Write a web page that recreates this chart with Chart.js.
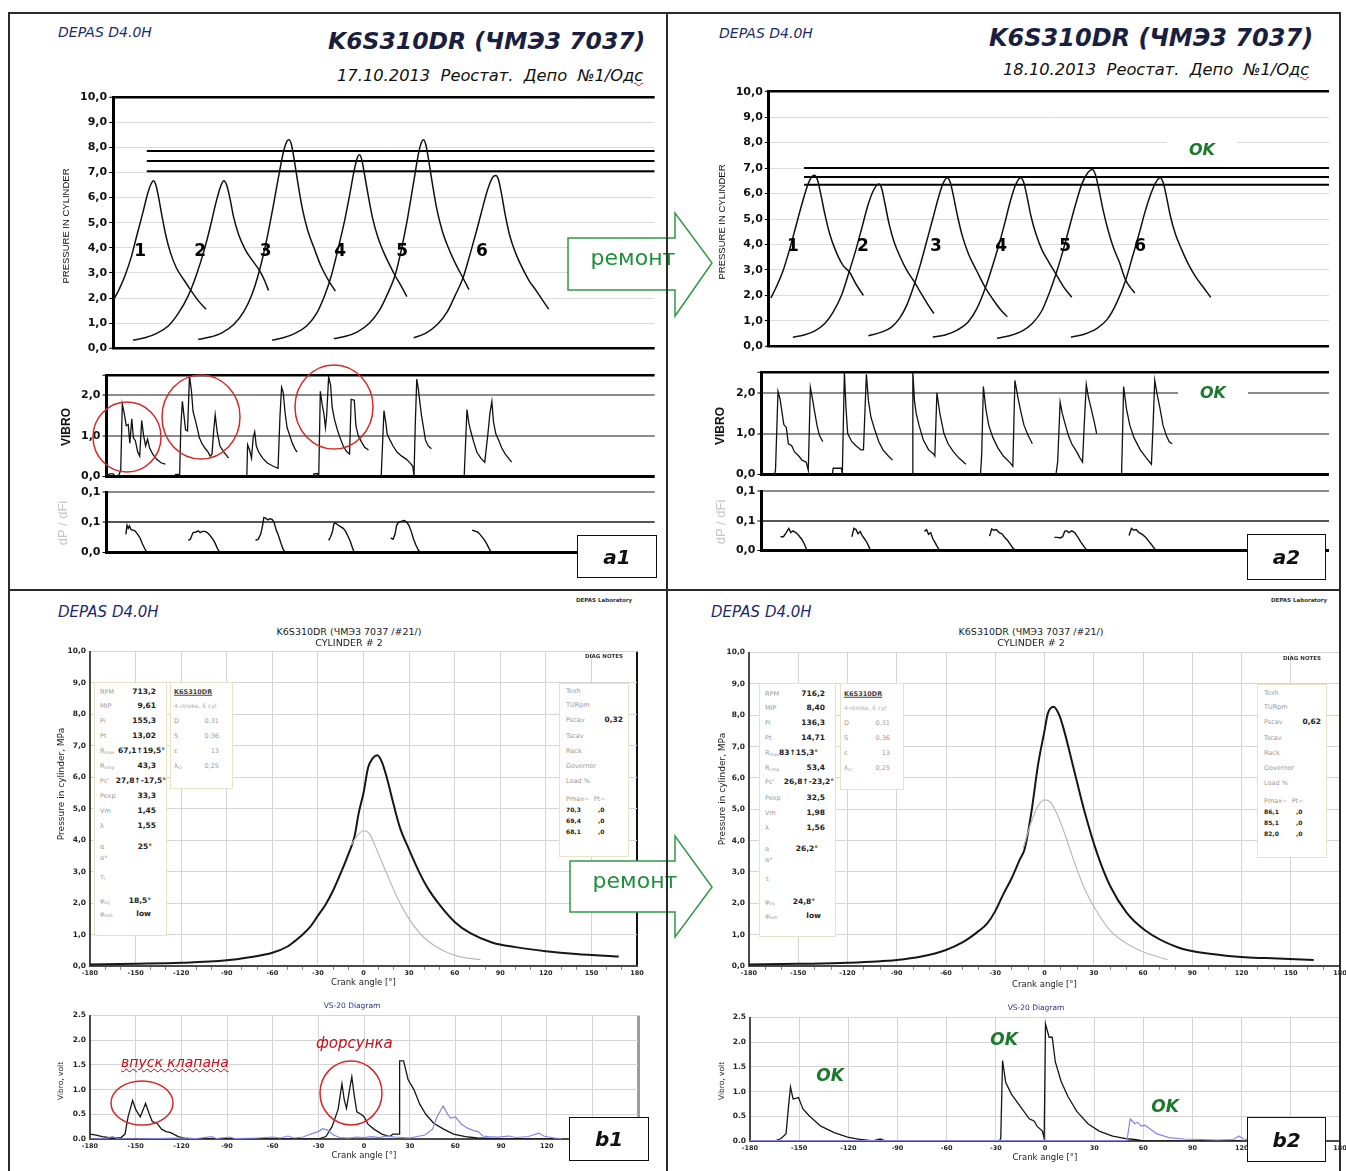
<!DOCTYPE html>
<html lang="ru">
<head>
<meta charset="utf-8">
<title>K6S310DR (ЧМЭ3 7037)</title>
<script src="https://cdn.jsdelivr.net/npm/chart.js@4.4.1/dist/chart.umd.min.js"></script>
<style>
  html, body { margin: 0; padding: 0; background: #fff; }
  #page { position: relative; width: 1346px; height: 1171px; overflow: hidden; background: #fff; font-family: 'DejaVu Sans', sans-serif; }
  #page canvas { position: absolute; }
  .t { position: absolute; white-space: nowrap; line-height: 1; }
  .t sub { font-size: 70%; vertical-align: -1px; line-height: 0; }
  .box { position: absolute; box-sizing: border-box; }
  .sp { text-decoration: underline wavy #d01010; text-decoration-thickness: 1px; }
</style>
</head>
<body>
<div id="page"></div>
<script>
// ---------- tick labels
const pressureTicks = [0, 1, 2, 3, 4, 5, 6, 7, 8, 9, 10];
const pressureTickLabels = ['0,0', '1,0', '2,0', '3,0', '4,0', '5,0', '6,0', '7,0', '8,0', '9,0', '10,0'];
const vibroTicksA = [0, 1, 2, 2.5];
const vibroTickLabelsA = ['0,0', '1,0', '2,0', ''];
const dpTicks = [0, 0.05, 0.1];
const dpTickLabels = ['0,0', '0,1', '0,1'];
const angleTicks = [-180, -150, -120, -90, -60, -30, 0, 30, 60, 90, 120, 150, 180];
const angleTickLabels = ['-180', '-150', '-120', '-90', '-60', '-30', '0', '30', '60', '90', '120', '150', '180'];
const minorAngleTicks = [-170, -160, -140, -130, -110, -100, -80, -70, -50, -40, -20, -10, 10, 20, 40, 50, 70, 80, 100, 110, 130, 140, 160, 170];
const vibroTicksB = [0, 0.5, 1, 1.5, 2, 2.5];
const vibroTickLabelsB = ['0.0', '0.5', '1.0', '1.5', '2.0', '2.5'];

// ---------- a1 (17.10.2013): cylinder pressure, x = position along the sweep, y = MPa
const a1P1 = [[160,1.9],[175,2.35],[190,2.9],[205,3.6],[220,4.5],[235,5.4],[248,6.2],[256,6.55],[262,6.67],[268,6.5],[275,6.0],[283,5.3],[293,4.5],[305,3.8],[320,3.2],[340,2.7],[357,2.3],[375,1.9],[395,1.56]];
const a1P2 = [[210,0.33],[240,0.42],[270,0.6],[300,0.9],[325,1.4],[350,2.1],[370,2.9],[390,3.9],[405,4.8],[420,5.8],[432,6.45],[440,6.67],[447,6.5],[455,6.0],[465,5.2],[478,4.5],[495,3.9],[512,3.5],[530,3.1],[543,2.7],[553,2.3]];
const a1P3 = [[375,0.36],[405,0.45],[435,0.62],[465,0.95],[490,1.45],[510,2.1],[530,3.1],[548,4.3],[563,5.5],[578,6.8],[592,7.9],[600,8.25],[605,8.3],[611,8.1],[618,7.5],[627,6.6],[638,5.6],[652,4.7],[668,4.0],[685,3.3],[705,2.7],[722,2.28]];
const a1P4 = [[562,0.33],[590,0.42],[620,0.6],[650,0.9],[675,1.4],[695,2.1],[712,2.9],[728,3.9],[743,4.9],[757,6.0],[770,7.1],[778,7.6],[783,7.7],[789,7.5],[796,6.9],[805,6.1],[816,5.2],[830,4.4],[845,3.8],[860,3.3],[873,2.9],[888,2.5],[903,2.06]];
const a1P5 = [[718,0.39],[748,0.48],[778,0.66],[808,1.0],[833,1.5],[855,2.2],[873,2.9],[890,4.0],[905,5.2],[920,6.6],[933,7.8],[940,8.2],[945,8.3],[951,8.1],[958,7.5],[967,6.6],[978,5.6],[992,4.7],[1008,4.0],[1025,3.4],[1045,2.8],[1060,2.34]];
const a1P6 = [[920,0.42],[950,0.6],[980,0.95],[1005,1.45],[1025,2.1],[1045,2.8],[1062,3.7],[1078,4.6],[1093,5.5],[1107,6.3],[1120,6.8],[1128,6.88],[1135,6.7],[1143,6.1],[1152,5.3],[1163,4.5],[1178,3.8],[1195,3.2],[1212,2.7],[1230,2.3],[1247,1.9],[1262,1.56]];
const a1PeakLevels = [7.85, 7.45, 7.05];
const a1LabelX = [228, 380, 546, 734, 891, 1093];
const a1LabelY = 3.84;

// a1 vibro, volt
const a1V1 = [[143,0],[150,0.06],[160,0.06],[166,0],[174,0.03],[179,0.15],[183,1.78],[188,1.55],[193,1.25],[198,1.28],[202,0.82],[207,1.42],[211,0.95],[216,0.88],[222,0.6],[227,0.5],[232,1.38],[237,1.0],[242,0.75],[247,0.92],[252,0.7],[260,0.55],[270,0.42],[282,0.33],[292,0.3]];
const a1V2 = [[315,0],[318,0.05],[325,0.05],[328,0],[331,1.2],[335,1.85],[339,1.5],[343,1.15],[348,1.12],[353,2.48],[358,2.1],[362,1.6],[370,1.3],[378,0.95],[385,0.8],[392,0.7],[400,0.6],[405,0.5],[410,0.55],[414,1.1],[418,1.52],[423,1.1],[430,0.75],[440,0.6],[452,0.45]];
const a1V3 = [[498,0],[500,0.78],[505,0.65],[510,0.45],[514,0.95],[518,1.1],[522,0.75],[528,0.6],[538,0.45],[550,0.33],[565,0.25],[577,0.2],[582,1.5],[586,2.2],[590,2.08],[595,1.55],[600,1.2],[607,1.0],[613,0.82],[620,0.68],[625,0.6]];
const a1V4 = [[665,0],[668,0.06],[676,0.07],[680,0],[684,2.1],[689,1.75],[693,1.55],[697,1.2],[700,1.5],[705,2.45],[710,2.25],[714,1.7],[720,1.4],[727,1.15],[734,0.95],[742,0.75],[750,0.62],[758,0.55],[762,1.9],[770,1.88],[774,1.25],[780,1.0],[788,0.85],[796,0.72],[806,0.65]];
const a1V5 = [[838,0],[845,1.62],[850,1.3],[853,1.05],[860,0.9],[868,0.75],[878,0.6],[890,0.5],[902,0.42],[912,0.32],[918,0.25],[921,0],[924,1.2],[928,2.4],[932,2.15],[935,1.9],[940,1.5],[945,1.2],[950,0.9],[957,0.75],[965,0.68]];
const a1V6 = [[1048,0],[1055,1.65],[1060,1.3],[1065,1.1],[1072,0.85],[1080,0.6],[1090,0.45],[1100,0.35],[1108,1.05],[1113,1.55],[1118,1.85],[1122,1.35],[1128,1.05],[1135,0.9],[1143,0.7],[1152,0.55],[1160,0.45],[1168,0.35]];

// a1 dP/dFi
const a1D1 = [[192,0.03],[195,0.045],[198,0.04],[201,0.044],[205,0.038],[210,0.037],[215,0.036],[222,0.03],[228,0.024],[234,0.014],[240,0.006],[245,0]];
const a1D2 = [[350,0.02],[355,0.022],[362,0.033],[370,0.034],[375,0.036],[380,0.033],[386,0.035],[392,0.035],[398,0.033],[405,0.028],[412,0.022],[418,0.015],[424,0.006],[430,0]];
const a1D3 = [[520,0.02],[527,0.022],[533,0.03],[538,0.045],[541,0.058],[546,0.057],[551,0.054],[556,0.056],[562,0.055],[567,0.05],[572,0.038],[578,0.028],[584,0.016],[590,0.005],[595,0]];
const a1D4 = [[705,0.02],[710,0.026],[715,0.035],[718,0.047],[722,0.049],[728,0.046],[735,0.043],[742,0.04],[748,0.035],[753,0.028],[760,0.018],[765,0.008],[770,0]];
const a1D5 = [[862,0.024],[868,0.022],[873,0.03],[877,0.045],[882,0.05],[890,0.052],[897,0.053],[903,0.05],[908,0.045],[914,0.035],[920,0.022],[926,0.012],[932,0.004],[937,0]];
const a1D6 = [[1068,0.037],[1073,0.036],[1077,0.035],[1082,0.034],[1088,0.03],[1094,0.025],[1100,0.02],[1106,0.013],[1112,0.005],[1117,0]];

// ---------- a2 (18.10.2013, after repair)
const a2P1 = [[195,1.9],[210,2.4],[225,3.0],[240,3.8],[255,4.7],[270,5.6],[283,6.3],[293,6.65],[300,6.72],[307,6.55],[315,6.0],[325,5.2],[337,4.4],[350,3.8],[368,3.2],[385,2.9],[400,2.45],[418,2.0]];
const a2P2 = [[248,0.36],[275,0.45],[300,0.6],[325,0.9],[345,1.35],[365,2.0],[383,2.9],[400,3.8],[415,4.7],[430,5.6],[443,6.15],[455,6.38],[462,6.2],[470,5.6],[480,4.8],[492,4.1],[507,3.5],[522,3.0],[540,2.55],[560,2.0],[575,1.6],[588,1.29]];
const a2P3 = [[430,0.42],[460,0.55],[485,0.75],[505,1.1],[522,1.6],[540,2.4],[555,3.2],[570,4.1],[585,5.0],[598,5.8],[610,6.4],[620,6.62],[627,6.45],[635,5.9],[645,5.1],[657,4.3],[672,3.6],[690,3.0],[712,2.3],[730,1.85],[748,1.45],[765,1.16]];
const a2P4 = [[585,0.36],[615,0.45],[645,0.65],[670,0.95],[692,1.5],[712,2.3],[728,3.1],[743,3.9],[758,4.8],[772,5.7],[785,6.35],[797,6.62],[804,6.45],[812,5.9],[822,5.1],[834,4.4],[848,3.8],[865,3.3],[882,2.84],[900,2.35],[920,1.93]];
const a2P5 = [[740,0.32],[770,0.42],[800,0.6],[825,0.9],[848,1.4],[866,2.1],[882,2.84],[898,3.7],[913,4.6],[928,5.5],[945,6.4],[960,6.85],[970,6.95],[977,6.75],[985,6.2],[995,5.4],[1007,4.6],[1020,3.9],[1035,3.3],[1050,2.6],[1062,2.3],[1072,2.1]];
const a2P6 = [[918,0.36],[950,0.48],[980,0.7],[1005,1.05],[1028,1.7],[1050,2.6],[1066,3.5],[1082,4.4],[1097,5.3],[1111,6.0],[1123,6.45],[1133,6.62],[1140,6.45],[1148,5.9],[1158,5.1],[1170,4.4],[1185,3.8],[1202,3.2],[1220,2.7],[1238,2.3],[1255,1.93]];
const a2PeakLevels = [7.0, 6.65, 6.35];
const a2LabelX = [248, 417, 593, 750, 904, 1085];
const a2LabelY = 3.9;

const a2V1 = [[172,0],[203,0],[206,0.1],[212,2.03],[217,1.84],[222,1.5],[226,1.22],[232,1.15],[237,0.75],[245,0.7],[252,0.55],[262,0.45],[270,0.35],[280,0.3],[285,0.1],[290,2.13],[296,1.8],[300,1.55],[306,1.2],[312,0.95],[320,0.8]];
const a2V2 = [[343,0],[345,0.15],[365,0.15],[367,0],[372,2.5],[376,1.6],[380,1.0],[390,0.8],[400,0.7],[412,0.6],[418,0.6],[425,2.45],[430,1.8],[436,1.4],[445,1.1],[455,0.8],[465,0.6],[478,0.45],[488,0.35]];
const a2V3 = [[537,0],[537,2.5],[541,1.8],[545,1.5],[552,1.2],[562,0.85],[575,0.6],[587,0.5],[590,0.45],[595,2.0],[602,1.5],[612,1.0],[622,0.75],[635,0.55],[648,0.4],[665,0.25]];
const a2V4 = [[700,0],[703,0.5],[707,2.15],[713,1.6],[720,1.2],[730,0.9],[742,0.65],[755,0.45],[770,0.3],[778,0.2],[783,2.3],[790,1.9],[797,1.55],[805,1.2],[815,0.95],[825,0.75]];
const a2V5 = [[882,0],[886,0.3],[892,1.77],[897,1.5],[905,1.2],[912,0.95],[920,0.75],[932,0.55],[940,0.4],[946,0.3],[950,1.2],[955,2.2],[960,1.9],[967,1.6],[975,1.25],[980,1.0]];
const a2V6 = [[1040,0],[1042,0.8],[1045,2.15],[1052,1.6],[1060,1.2],[1070,0.9],[1085,0.6],[1100,0.4],[1112,0.25],[1116,1.2],[1120,2.3],[1125,2.0],[1133,1.6],[1140,1.2],[1148,0.95],[1155,0.8],[1162,0.75]];

const a2D1 = [[218,0.023],[225,0.023],[232,0.03],[238,0.037],[243,0.03],[248,0.033],[255,0.03],[262,0.025],[270,0.018],[276,0.01],[282,0]];
const a2D2 = [[390,0.023],[395,0.037],[400,0.035],[405,0.028],[410,0.032],[415,0.025],[420,0.02],[425,0.015],[430,0.008],[435,0]];
const a2D3 = [[565,0.032],[570,0.035],[575,0.027],[580,0.03],[585,0.02],[590,0.014],[596,0.006],[602,0]];
const a2D4 = [[722,0.024],[727,0.036],[732,0.034],[738,0.035],[745,0.03],[752,0.028],[758,0.022],[765,0.017],[772,0.01],[778,0.004],[785,0]];
const a2D5 = [[878,0.022],[885,0.022],[892,0.021],[898,0.023],[903,0.032],[908,0.033],[913,0.03],[920,0.033],[927,0.03],[935,0.022],[942,0.014],[950,0.006],[957,0]];
const a2D6 = [[1058,0.025],[1064,0.037],[1070,0.034],[1075,0.035],[1082,0.03],[1090,0.027],[1098,0.022],[1105,0.016],[1112,0.01],[1118,0.004],[1124,0]];

// ---------- b1 / b2: cylinder #2, crank angle in degrees
const b1Fired = [[-180,0.05],[-150,0.07],[-120,0.1],[-90,0.18],[-75,0.28],[-60,0.42],[-50,0.62],[-45,0.8],[-40,1.0],[-35,1.25],[-30,1.6],[-25,1.95],[-20,2.4],[-15,2.95],[-10,3.55],[-6,4.1],[-3,4.9],[0,5.5],[3,6.3],[6,6.6],[9,6.7],[12,6.5],[15,6.05],[20,5.1],[24,4.4],[30,3.7],[36,3.05],[42,2.5],[50,1.95],[60,1.4],[70,1.05],[85,0.74],[100,0.6],[120,0.47],[140,0.38],[168,0.3]];
const b1Motored = [[-8,3.85],[-4,4.15],[0,4.3],[4,4.2],[8.7,3.7],[15,2.97],[22,2.2],[30,1.5],[40,0.9],[52,0.5],[63,0.3],[77,0.2]];
const b2Fired = [[-180,0.05],[-150,0.07],[-120,0.1],[-90,0.19],[-75,0.3],[-60,0.51],[-50,0.75],[-45,0.92],[-40,1.12],[-35,1.35],[-30,1.75],[-25,2.3],[-20,2.8],[-15,3.4],[-12,3.75],[-8,4.9],[-4,6.4],[0,7.5],[2,8.05],[5.5,8.27],[9,8.0],[12,7.5],[18,6.25],[24,5.0],[32,3.6],[40,2.55],[50,1.7],[61,1.15],[81,0.6],[102,0.38],[122,0.28],[142,0.24],[164,0.19]];
const b2Motored = [[-13,3.75],[-8,4.6],[-4,5.1],[0,5.3],[4,5.2],[10,4.55],[15,3.8],[20,3.05],[25,2.4],[30,1.9],[40,1.13],[50,0.72],[61,0.43],[75,0.2]];

const b1VibroHead = [[-180,0.1],[-176,0.08],[-172,0.05],[-166,0.02],[-160,0.02],[-157,0.1],[-155,0.45],[-152,0.78],[-150,0.6],[-147,0.45],[-145,0.6],[-143.5,0.72],[-141,0.5],[-139,0.35],[-136,0.32],[-133,0.2],[-130,0.15],[-127,0.13],[-122,0.05],[-117,0.01],[-110,0],[-60,0],[-30,0],[-25,0.05],[-21,0.25],[-17,0.6],[-14.5,1.12],[-13,0.8],[-11.5,0.62],[-9.5,1.0],[-8,1.26],[-6.5,0.9],[-4.7,0.55],[-2,0.5],[0,0.45],[2.6,0.3],[6.5,0.2],[11.7,0.1],[17,0.05],[19,0.1],[23,0.1],[23.4,1.58],[26,1.58],[29,1.2],[32.8,1.0],[36.7,0.7],[40.6,0.5],[45.8,0.32],[52.3,0.2],[58.8,0.1],[66.6,0.05],[74.4,0.02],[90,0],[130,0]];
const b1VibroBlock = [[-180,0],[-170,0.01],[-165,0.05],[-162,0.01],[-150,0],[-120,0.02],[-110,0.01],[-100,0.05],[-97,0.01],[-88,0.04],[-85,0.01],[-70,0.02],[-60,0.04],[-55,0.02],[-50,0.06],[-46,0.02],[-40,0.04],[-35,0.1],[-30,0.15],[-27,0.21],[-24,0.18],[-20,0.08],[-16,0.03],[-10,0.02],[-5,0.04],[0,0.03],[5,0.05],[10,0.03],[15,0.06],[20,0.04],[30,0.02],[40,0.08],[45,0.2],[48,0.45],[52,0.67],[55,0.5],[57,0.42],[60,0.45],[64,0.3],[68,0.22],[72,0.17],[75,0.15],[78,0.06],[82,0.05],[88,0.04],[95,0.06],[100,0.03],[108,0.05],[115,0.12],[118,0.06],[125,0.02],[130,0.01]];
const b2VibroHead = [[-180,0],[-165,0],[-161,0.05],[-158,0.15],[-156.5,0.7],[-155.3,1.09],[-153.7,0.85],[-150.4,0.88],[-147.7,0.65],[-143.6,0.5],[-136.8,0.3],[-128.6,0.17],[-120.5,0.08],[-112.4,0.03],[-105,0],[-100.6,0.04],[-97,0],[-28,0],[-27,0.05],[-25.9,1.63],[-24,1.19],[-20.5,0.95],[-15.1,0.7],[-9.6,0.45],[-6.5,0.4],[-4.9,0.3],[-1.6,0.2],[-0.5,0.05],[0.3,2.37],[2.5,2.1],[4.4,2.1],[6.3,1.6],[9.9,1.2],[14,0.9],[19.4,0.6],[26.2,0.35],[33,0.2],[41.3,0.1],[49.3,0.05],[54.8,0.03],[60,0],[120,0]];
const b2VibroBlock = [[-180,0.01],[-100,0.01],[-30,0.01],[0,0.01],[50,0.01],[52,0.45],[54.8,0.35],[56.5,0.38],[58.6,0.3],[61,0.32],[64,0.25],[68,0.15],[75.6,0.07],[85,0.04],[105,0.02],[115,0.03],[118.3,0.1],[121,0.04],[128,0.02]];

// ---------- parameter boxes
const b1Params = [['RPM','713,2'],['MIP','9,61'],['Pi','155,3'],['Pt','13,02'],['R<sub>max</sub>','67,1↑19,5°'],['R<sub>cmp</sub>','43,3'],["Pc'",'27,8↑-17,5°'],['Pexp','33,3'],['Vm','1,45'],['λ','1,55'],['α','25°'],['α*',''],['τ<sub>i</sub>',''],['φ<sub>inj</sub>','18,5°'],['φ<sub>exh</sub>','low']];
const b2Params = [['RPM','716,2'],['MIP','8,40'],['Pi','136,3'],['Pt','14,71'],['R<sub>max</sub>','83↑15,3°'],['R<sub>cmp</sub>','53,4'],["Pc'",'26,8↑-23,2°'],['Pexp','32,5'],['Vm','1,98'],['λ','1,56'],['α','26,2°'],['α*',''],['τ<sub>i</sub>',''],['φ<sub>inj</sub>','24,8°'],['φ<sub>exh</sub>','low']];
const engineSpec = [['D','0,31'],['S','0,36'],['ε','13'],['λ<sub>cr</sub>','0,25']];
const diagNames = ['Texh','TURpm','Pscav','Tscav','Rack','Governor','Load %','Pmax~ &nbsp;Pt~'];
const b1Pmax = ['70,3','69,4','68,1'];
const b2Pmax = ['86,1','85,1','82,0'];

// ---------------------------------------------------------------
Chart.defaults.font.family = "'DejaVu Sans', sans-serif";
Chart.defaults.color = '#111';

const page = document.getElementById('page');
const LEFT = 'translate(0,-50%)', CENTER = 'translate(-50%,-50%)', RIGHT = 'translate(-100%,-50%)';
const VERT = 'translate(-50%,-50%) rotate(-90deg)';

function put(html, x, y, style, anchor) {
    const d = document.createElement('div');
    d.className = 't';
    d.innerHTML = html;
    d.style.cssText = `left:${x}px;top:${y}px;` + (style || '');
    d.style.transform = anchor || LEFT;
    page.appendChild(d);
    return d;
}

function rect(x, y, w, h, style) {
    const d = document.createElement('div');
    d.className = 'box';
    d.style.cssText = `left:${x}px;top:${y}px;width:${w}px;height:${h}px;` + (style || '');
    page.appendChild(d);
    return d;
}

function trace(arr, color, width, smooth) {
    return {
        data: arr.map(([x, y]) => ({ x, y })),
        borderColor: color,
        borderWidth: width,
        pointRadius: 0,
        fill: false,
        tension: 0,
        cubicInterpolationMode: smooth ? 'monotone' : 'default'
    };
}

function levelLine(level, xFrom, xTo) {
    return trace([[xFrom, level], [xTo, level]], '#000', 2, false);
}

// canvas sized so that the plot area lands on the given page rectangle
function plotCanvas(r) {
    const padT = r.padT || 10, padR = r.padR || 4, padB = r.padB || 4, xH = r.xH || 0;
    const left = Math.floor(r.x0 - r.axisW);
    const top = Math.floor(r.y0 - padT);
    const width = Math.ceil(r.x1 + padR - left);
    const height = Math.ceil(r.y1 + xH + padB - top);
    const cv = document.createElement('canvas');
    cv.width = width;
    cv.height = height;
    cv.style.cssText = `left:${left}px;top:${top}px;width:${width}px;height:${height}px`;
    page.appendChild(cv);
    return {
        cv, xH,
        axisW: r.x0 - left,
        padding: { left: 0, top: r.y0 - top, right: width - (r.x1 - left), bottom: height - (r.y1 - top) - xH }
    };
}

function valueAxis(c, ticks, labels, o) {
    return {
        type: 'linear',
        min: ticks[0],
        max: ticks[ticks.length - 1],
        afterBuildTicks: (a) => { a.ticks = ticks.map((v) => ({ value: v })); },
        afterFit: (a) => { a.width = c.axisW; },
        ticks: { callback: (v, i) => labels[i], font: o.font, color: o.color || '#111', padding: o.pad, autoSkip: false },
        grid: o.grid,
        border: o.border
    };
}

function angleAxis(c, o) {
    return {
        type: 'linear',
        min: -180,
        max: 180,
        afterBuildTicks: (a) => { a.ticks = angleTicks.map((v) => ({ value: v })); },
        afterFit: (a) => { a.height = c.xH; },
        ticks: { callback: (v, i) => angleTickLabels[i], font: { size: 6.5, weight: 'bold' }, color: '#262626', padding: 3, maxRotation: 0, autoSkip: false },
        grid: o.grid,
        border: { color: '#4a4a4a', width: 2 },
        title: { display: true, text: 'Crank angle [°]', font: { size: 8.5 }, color: '#222', padding: 0 }
    };
}

// small 10-degree marks under the crank-angle axis
function minorAngleAxis() {
    return {
        type: 'linear',
        position: 'bottom',
        weight: -1,
        min: -180,
        max: 180,
        afterBuildTicks: (a) => { a.ticks = minorAngleTicks.map((v) => ({ value: v })); },
        afterFit: (a) => { a.height = 0; },
        ticks: { display: false },
        grid: { drawOnChartArea: false, drawTicks: true, tickLength: 4, color: '#8a8a8a', lineWidth: 1 },
        border: { display: false }
    };
}

// grid style per tick value: [color, width]
function gridBy(styleOf, ticksOn) {
    return {
        drawTicks: !!ticksOn,
        tickLength: 4,
        tickColor: '#000',
        tickWidth: 1,
        color: (ctx) => styleOf(ctx.tick ? ctx.tick.value : null)[0],
        lineWidth: (ctx) => styleOf(ctx.tick ? ctx.tick.value : null)[1]
    };
}

const cylNumbers = {
    id: 'cylNumbers',
    afterDatasetsDraw(chart, args, opts) {
        if (!opts || !opts.xs) return;
        const { ctx, scales: { x, y } } = chart;
        ctx.save();
        ctx.font = "bold 17px 'DejaVu Sans'";
        ctx.fillStyle = '#000';
        ctx.textAlign = 'center';
        ctx.textBaseline = 'middle';
        opts.xs.forEach((v, i) => ctx.fillText(String(i + 1), x.getPixelForValue(v), y.getPixelForValue(opts.y)));
        ctx.restore();
    }
};

function draw(r, datasets, scales, pluginOpts, plugins) {
    const c = plotCanvas(r);
    return new Chart(c.cv, {
        type: 'line',
        data: { datasets },
        options: {
            responsive: false,
            animation: false,
            events: [],
            devicePixelRatio: 1,
            layout: { padding: c.padding, autoPadding: false },
            plugins: Object.assign({ legend: { display: false }, tooltip: { enabled: false } }, pluginOpts || {}),
            scales: scales(c)
        },
        plugins: plugins || []
    });
}

// ---------- upper panels (a1, a2)
const tickFontA = { size: 11, weight: 'bold' };
const pressureGridA = gridBy((v) => (v === 0 || v === 10) ? ['#000', 2.5] : ['#dcdcdc', 1], true);
const vibroGridA = gridBy((v) => v === 0 ? ['#000', 3] : v === 2.5 ? ['#000', 2.5] : ['#8c8c8c', 2], true);
const dpGridA = gridBy((v) => v === 0 ? ['#000', 3] : v === 0.05 ? ['#555', 2] : ['#8c8c8c', 2], true);
const axisBorderA = { display: true, color: '#000', width: 3 };

function upperPanel(p) {
    draw(p.pRect,
        [...p.curves.map((a) => trace(a, '#111', 1.5, true)), ...p.levels.map((l) => levelLine(l, p.levelFrom, p.xMax))],
        (c) => ({
            x: { type: 'linear', min: p.pMin, max: p.xMax, display: false },
            y: valueAxis(c, pressureTicks, pressureTickLabels, { font: tickFontA, pad: 2, grid: pressureGridA, border: axisBorderA })
        }),
        { cylNumbers: { xs: p.labelX, y: p.labelY } },
        [cylNumbers]);
    draw(p.vRect,
        p.vibro.map((a) => trace(a, '#111', 1.3, false)),
        (c) => ({
            x: { type: 'linear', min: p.vMin, max: p.xMax, display: false },
            y: valueAxis(c, vibroTicksA, vibroTickLabelsA, { font: tickFontA, pad: 2, grid: vibroGridA, border: axisBorderA })
        }));
    draw(p.dRect,
        p.dp.map((a) => trace(a, '#111', 1.4, false)),
        (c) => ({
            x: { type: 'linear', min: p.vMin, max: p.xMax, display: false },
            y: valueAxis(c, dpTicks, dpTickLabels, { font: tickFontA, pad: 2, grid: dpGridA, border: axisBorderA })
        }));
}

upperPanel({
    pRect: { x0: 113.2, x1: 654.7, y0: 97, y1: 353, axisW: 48 },
    vRect: { x0: 106.5, x1: 654.7, y0: 375, y1: 480.5, axisW: 42 },
    dRect: { x0: 106.5, x1: 654.7, y0: 492.3, y1: 556.7, axisW: 42 },
    pMin: 160, vMin: 143, xMax: 1530,
    curves: [a1P1, a1P2, a1P3, a1P4, a1P5, a1P6],
    levels: a1PeakLevels, levelFrom: 245,
    labelX: a1LabelX, labelY: a1LabelY,
    vibro: [a1V1, a1V2, a1V3, a1V4, a1V5, a1V6],
    dp: [a1D1, a1D2, a1D3, a1D4, a1D5, a1D6]
});

upperPanel({
    pRect: { x0: 768.8, x1: 1329, y0: 91.7, y1: 351, axisW: 48 },
    vRect: { x0: 761.4, x1: 1329, y0: 372.3, y1: 478.3, axisW: 42 },
    dRect: { x0: 761.4, x1: 1329, y0: 491, y1: 555, axisW: 42 },
    pMin: 190, vMin: 172, xMax: 1540,
    curves: [a2P1, a2P2, a2P3, a2P4, a2P5, a2P6],
    levels: a2PeakLevels, levelFrom: 275,
    labelX: a2LabelX, labelY: a2LabelY,
    vibro: [a2V1, a2V2, a2V3, a2V4, a2V5, a2V6],
    dp: [a2D1, a2D2, a2D3, a2D4, a2D5, a2D6]
});

// ---------- lower panels (b1, b2)
const tickFontB = { size: 7.5, weight: 'bold' };
const lightGrid = { color: '#d4d4d4', lineWidth: 1, drawTicks: false };
const axisBorderB = { display: true, color: '#4a4a4a', width: 2 };

function lowerPanel(p) {
    draw(p.pRect,
        [trace(p.motored, '#b9b9b9', 1.2, true), trace(p.fired, '#161616', 2, true)],
        (c) => ({
            x: angleAxis(c, { grid: gridBy((v) => v === 180 ? ['#111', 2] : ['#d4d4d4', 1]) }),
            xMinor: minorAngleAxis(),
            y: valueAxis(c, pressureTicks, pressureTickLabels, { font: tickFontB, color: '#262626', pad: 4, grid: lightGrid, border: axisBorderB })
        }));
    draw(p.vRect,
        [trace(p.block, '#8585ec', 1.2, false), trace(p.head, '#161616', 1.3, false)],
        (c) => ({
            x: angleAxis(c, { grid: gridBy((v) => v === 180 ? p.rightLine : ['#d4d4d4', 1]) }),
            y: valueAxis(c, vibroTicksB, vibroTickLabelsB, { font: tickFontB, color: '#262626', pad: 4, grid: lightGrid, border: axisBorderB })
        }));
}

lowerPanel({
    pRect: { x0: 90, x1: 637, y0: 651, y1: 966, axisW: 30, padT: 8, padR: 10, padB: 2, xH: 21.8 },
    vRect: { x0: 90, x1: 638, y0: 1015, y1: 1139, axisW: 30, padT: 8, padR: 10, padB: 2, xH: 21.8 },
    fired: b1Fired, motored: b1Motored,
    head: b1VibroHead, block: b1VibroBlock,
    rightLine: ['#9c9c9c', 3]
});

lowerPanel({
    pRect: { x0: 749, x1: 1340, y0: 652, y1: 966, axisW: 30, padT: 8, padR: 10, padB: 2, xH: 23.8 },
    vRect: { x0: 750, x1: 1340, y0: 1017, y1: 1141, axisW: 30, padT: 8, padR: 10, padB: 2, xH: 21.8 },
    fired: b2Fired, motored: b2Motored,
    head: b2VibroHead, block: b2VibroBlock,
    rightLine: ['#111', 2]
});

// ---------- texts of the upper panels
const navy = 'color:#1c2a6b;';
put('DEPAS D4.0H', 58, 32, 'font-style:italic;font-size:14px;' + navy);
put('K6S310DR (ЧМЭ3 7037)', 328, 42, 'font-style:italic;font-weight:bold;font-size:23.5px;color:#1a1f3f;');
put('17.10.2013&nbsp; Реостат.&nbsp; Депо&nbsp; №1/О<span class="sp">дс</span>', 337, 76, 'font-style:italic;font-size:16.3px;color:#111;');
put('DEPAS D4.0H', 719, 33, 'font-style:italic;font-size:14px;' + navy);
put('K6S310DR (ЧМЭ3 7037)', 989, 38, 'font-style:italic;font-weight:bold;font-size:24px;color:#1a1f3f;');
put('18.10.2013&nbsp; Реостат.&nbsp; Депо&nbsp; №1/О<span class="sp">дс</span>', 1003, 70, 'font-style:italic;font-size:16.3px;color:#111;');

const capsTitle = "font-family:'Liberation Sans',Arial,sans-serif;font-size:9.5px;color:#111;";
put('PRESSURE IN CYLINDER', 66, 226, capsTitle, VERT);
put('PRESSURE IN CYLINDER', 722, 222, capsTitle, VERT);
const vibroTitle = "font-family:'Liberation Sans',Arial,sans-serif;font-size:12px;font-weight:bold;color:#111;";
put('VIBRO', 66, 427, vibroTitle, VERT);
put('VIBRO', 720, 426, vibroTitle, VERT);
const dpTitle = "font-family:'Liberation Sans',Arial,sans-serif;font-size:13px;color:#c4c4c4;";
put('dP / dFi', 62, 523, dpTitle, VERT);
put('dP / dFi', 720, 522, dpTitle, VERT);

// ---------- texts of the lower panels
function lowerTexts(o) {
    put('DEPAS D4.0H', o.x + 0, 612, 'font-style:italic;font-size:15px;' + navy);
    put('DEPAS Laboratory', o.lab, 601, 'font-size:5.5px;font-weight:bold;color:#333;', LEFT);
    put('K6S310DR (ЧМЭ3 7037 /#21/)', o.mid, 632, 'font-size:9.5px;color:#1a1a1a;', CENTER);
    put('CYLINDER # 2', o.mid, 643, 'font-size:9.5px;color:#1a1a1a;', CENTER);
    put('DIAG NOTES', o.diag, o.diagY, 'font-size:5.5px;font-weight:bold;color:#333;', CENTER);
    put('Pressure in cylinder, MPa', o.yt, o.ptY, 'font-size:9px;color:#1a1a1a;', VERT);
    put('VS-20 Diagram', o.vs, o.vsY, 'font-size:7.5px;color:#2a2f80;', CENTER);
    put('Vibro, volt', o.yt, o.vtY, 'font-size:7.5px;color:#1a1a1a;', VERT);
}
lowerTexts({ x: 58, lab: 576, mid: 349, diag: 604, diagY: 657, yt: 61, ptY: 784, vs: 352, vsY: 1006, vtY: 1081 });
lowerTexts({ x: 711, lab: 1271, mid: 1031, diag: 1302, diagY: 659, yt: 722, ptY: 789, vs: 1036, vsY: 1008, vtY: 1081 });

// parameter boxes
const gray = 'font-size:6.5px;color:#9a9a9a;';
const bold = 'font-size:7.5px;font-weight:bold;color:#222;';
function paramBoxes(o) {
    rect(o.x1, o.top, o.w1, 254, 'background:#fff;border:1px solid #e6e3c9;');
    o.params.forEach(([lab, val], i) => {
        put(lab, o.x1 + 6, o.rows[i], gray);
        if (val) put(val, o.valRight[i], o.rows[i], bold, RIGHT);
    });
    rect(o.x2, o.top, o.w2, 107, 'background:#fff;border:1px solid #e6e3c9;');
    put('K6S310DR', o.x2 + 4, o.rows[0], 'font-size:6.5px;font-weight:bold;color:#444;text-decoration:underline;');
    put('4-stroke, 6 cyl', o.x2 + 4, o.rows[1], 'font-size:6px;color:#b0b0b0;');
    engineSpec.forEach(([lab, val], i) => {
        put(lab, o.x2 + 4, o.rows[i + 2], gray);
        put(val, o.x2 + o.w2 - 14, o.rows[i + 2], 'font-size:6.5px;color:#a0a0a0;', RIGHT);
    });
    rect(o.x3, o.top + 1, 70, 174, 'background:#fff;border:1px solid #e6e3c9;');
    diagNames.forEach((lab, i) => put(lab, o.x3 + 7, o.diagRows[i], gray));
    put(o.pscav, o.x3 + 64, o.diagRows[2], bold, RIGHT);
    o.pmax.forEach((v, i) => {
        put(v, o.x3 + 7, o.diagRows[7] + 11 * (i + 1), 'font-size:6px;font-weight:bold;color:#222;');
        put(',0', o.x3 + 39, o.diagRows[7] + 11 * (i + 1), 'font-size:6px;font-weight:bold;color:#222;');
    });
}
paramBoxes({
    x1: 94, w1: 73, x2: 170, w2: 63, x3: 559, top: 682,
    params: b1Params,
    rows: [692, 706, 721, 736, 751, 766, 781, 796, 811, 826, 847, 858, 877, 901, 914],
    valRight: [156, 156, 156, 156, 165, 156, 166, 156, 156, 156, 152, 0, 0, 151, 151],
    diagRows: [691, 705, 720, 736, 751, 766, 781, 799],
    pscav: '0,32', pmax: b1Pmax
});
paramBoxes({
    x1: 759, w1: 77, x2: 840, w2: 64, x3: 1257, top: 683,
    params: b2Params,
    rows: [694, 708, 723, 738, 753, 768, 782, 798, 813, 828, 849, 860, 879, 902, 916],
    valRight: [825, 825, 825, 825, 818, 825, 834, 825, 825, 825, 818, 0, 0, 815, 821],
    diagRows: [693, 707, 722, 738, 753, 768, 783, 801],
    pscav: '0,62', pmax: b2Pmax
});

// ---------- annotations: repair arrows and marked regions
const svgNS = 'http://www.w3.org/2000/svg';
const svg = document.createElementNS(svgNS, 'svg');
svg.setAttribute('width', '1346');
svg.setAttribute('height', '1171');
svg.style.cssText = 'position:absolute;left:0;top:0;';
page.appendChild(svg);
function svgEl(tag, attrs) {
    const e = document.createElementNS(svgNS, tag);
    Object.entries(attrs).forEach(([k, v]) => e.setAttribute(k, v));
    svg.appendChild(e);
    return e;
}
svgEl('polygon', { points: '568,238 675,238 675,213 712,263 675,316 675,290 568,290', fill: '#fff', stroke: '#2f9a45', 'stroke-width': 1.5 });
svgEl('polygon', { points: '570,861 675,861 675,836 712,887 675,937 675,912 570,912', fill: '#fff', stroke: '#2f9a45', 'stroke-width': 1.5 });
[[127, 437, 34, 35], [201, 417, 39, 42], [334, 407, 39, 42], [142, 1103, 31, 22], [351, 1093, 31, 32]].forEach(([cx, cy, rx, ry]) =>
    svgEl('ellipse', { cx, cy, rx, ry, fill: 'none', stroke: '#d42a2a', 'stroke-width': 1.5 }));

const green = 'color:#1f8f3c;font-size:22px;';
put('ремонт', 633, 258, green, CENTER);
put('ремонт', 635, 881, green, CENTER);

const ok = 'font-style:italic;font-weight:bold;color:#1b7a2c;';
put('OK', 1202, 150, ok + 'font-size:16px;background:#fff;padding:1px 22px;', CENTER);
put('OK', 1213, 393, ok + 'font-size:16px;background:#fff;padding:1px 22px;', CENTER);
put('OK', 830, 1075, ok + 'font-size:17px;', CENTER);
put('OK', 1004, 1039, ok + 'font-size:17px;', CENTER);
put('OK', 1165, 1106, ok + 'font-size:17px;', CENTER);

const red = 'font-style:italic;color:#c4101e;';
put('впуск клапана', 121, 1062, red + 'font-size:14px;text-decoration:underline wavy #9a1010;text-decoration-thickness:1px;');
put('форсунка', 316, 1043, red + 'font-size:15px;');

// panel tags
[['a1', 577, 535, 80, 43], ['a2', 1247, 534, 79, 46], ['b1', 569, 1117, 80, 44], ['b2', 1247, 1117, 79, 45]].forEach(([tag, x, y, w, h]) => {
    rect(x, y, w, h, 'background:#fff;border:1.5px solid #111;');
    put(tag, x + w / 2, y + h / 2, 'font-style:italic;font-weight:bold;font-size:20px;color:#111;', CENTER);
});

// ---------- frame
const frame = 'background:#2b2b2b;';
rect(8, 12, 1332, 1.5, frame);
rect(8, 12, 1.5, 1159, frame);
rect(1339, 12, 1.5, 1159, frame);
rect(666, 12, 1.5, 1159, frame);
rect(8, 589, 1332, 1.5, frame);
</script>
</body>
</html>
